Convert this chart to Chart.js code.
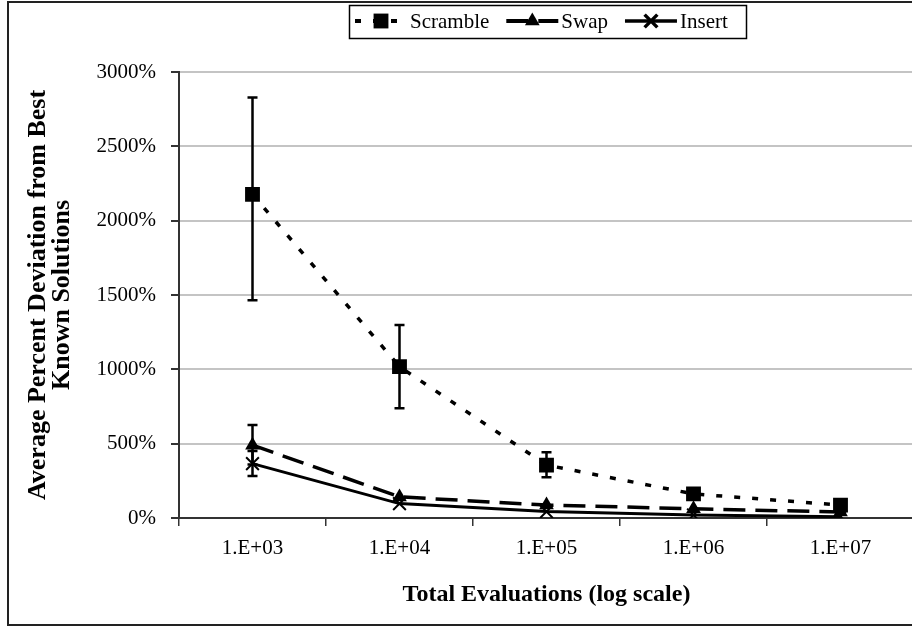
<!DOCTYPE html>
<html>
<head>
<meta charset="utf-8">
<script src="https://cdn.jsdelivr.net/npm/chart.js@4.4.0/dist/chart.umd.min.js"></script>
<style>
  html, body { margin: 0; padding: 0; background: #fff; overflow: hidden; }
  #wrap { position: absolute; left: 0; top: 0; width: 930px; height: 629px; }
</style>
</head>
<body>
<div id="wrap"><canvas id="evalChart"></canvas></div>
<script>
// data
const categories = ['1.E+03', '1.E+04', '1.E+05', '1.E+06', '1.E+07'];
const scramble = [2177, 1018, 356, 162, 87];
const scrambleLow = [1465, 738, 274, null, null];
const scrambleHigh = [2829, 1298, 442, null, null];
const swap = [490, 142, 87, 62, 40];
const swapLow = [360, null, null, null, null];
const swapHigh = [625, null, null, null, null];
const insert = [366, 97, 43, 20, 9];
const insertLow = [282, null, null, null, null];
const insertHigh = [450, null, null, null, null];
const yTicks = [0, 500, 1000, 1500, 2000, 2500, 3000];

const serif = "'Liberation Serif', 'Times New Roman', serif";

// outer frame of the figure
const framePlugin = {
    id: 'frame',
    beforeDraw(chart) {
        const ctx = chart.ctx;
        ctx.save();
        ctx.fillStyle = '#fff';
        ctx.fillRect(0, 0, chart.width, chart.height);
        ctx.strokeStyle = '#222';
        ctx.lineWidth = 2;
        ctx.strokeRect(8, 2, 940, 623);
        ctx.restore();
    }
};

// vertical error bars
const errorBarPlugin = {
    id: 'errorBars',
    afterDatasetsDraw(chart) {
        const ctx = chart.ctx;
        const xs = chart.scales.x;
        const ys = chart.scales.y;
        const sets = [[scrambleLow, scrambleHigh], [swapLow, swapHigh], [insertLow, insertHigh]];
        ctx.save();
        ctx.strokeStyle = '#000';
        ctx.lineWidth = 2.5;
        sets.forEach(function (pair) {
            for (let i = 0; i < categories.length; i++) {
                if (pair[0][i] == null) continue;
                const x = xs.getPixelForValue(i);
                const y1 = ys.getPixelForValue(pair[0][i]);
                const y2 = ys.getPixelForValue(pair[1][i]);
                ctx.beginPath();
                ctx.moveTo(x, y1); ctx.lineTo(x, y2);
                ctx.moveTo(x - 5, y1); ctx.lineTo(x + 5, y1);
                ctx.moveTo(x - 5, y2); ctx.lineTo(x + 5, y2);
                ctx.stroke();
            }
        });
        ctx.restore();
    }
};

// boxed legend at the top
const legendPlugin = {
    id: 'boxLegend',
    afterDraw(chart) {
        const ctx = chart.ctx;
        ctx.save();
        ctx.strokeStyle = '#000';
        ctx.lineWidth = 1.5;
        ctx.strokeRect(349.5, 5.5, 397, 33);
        ctx.font = '21px ' + serif;
        ctx.textBaseline = 'middle';
        ctx.fillStyle = '#000';
        let x = 355;
        const y = 21;
        chart.data.datasets.forEach(function (ds) {
            ctx.save();
            ctx.strokeStyle = ds.borderColor;
            ctx.lineWidth = ds.borderWidth + 0.5;
            ctx.setLineDash(ds.borderDash || []);
            ctx.beginPath();
            ctx.moveTo(x, y); ctx.lineTo(x + 52, y);
            ctx.stroke();
            ctx.setLineDash([]);
            ctx.fillStyle = '#000';
            Chart.helpers.drawPoint(ctx, {
                pointStyle: ds.pointStyle, radius: ds.pointRadius,
                borderWidth: ds.pointBorderWidth, rotation: 0
            }, x + 26, y);
            ctx.restore();
            ctx.fillText(ds.label, x + 55, y + 1);
            x = x + 55 + ctx.measureText(ds.label).width + 17;
        });
        ctx.restore();
    }
};

const evalCtx = document.getElementById('evalChart').getContext('2d');
const evalChart = new Chart(evalCtx, {
    type: 'line',
    data: {
        labels: categories,
        datasets: [{
            label: 'Scramble',
            data: scramble,
            borderColor: '#000',
            backgroundColor: '#000',
            borderWidth: 3.5,
            borderDash: [6, 12],
            pointStyle: 'rect',
            pointRadius: 10.5,
            pointBorderWidth: 0,
            pointBackgroundColor: '#000'
        }, {
            label: 'Swap',
            data: swap,
            borderColor: '#000',
            backgroundColor: '#000',
            borderWidth: 3.5,
            borderDash: [22, 10],
            pointStyle: 'triangle',
            pointRadius: 8.5,
            pointBorderWidth: 0,
            pointBackgroundColor: '#000'
        }, {
            label: 'Insert',
            data: insert,
            borderColor: '#000',
            backgroundColor: '#000',
            borderWidth: 3,
            pointStyle: 'crossRot',
            pointRadius: 9,
            pointBorderWidth: 2,
            pointBorderColor: '#000'
        }]
    },
    options: {
        responsive: true,
        maintainAspectRatio: false,
        animation: false,
        layout: { padding: { top: 72, right: 16, left: 0, bottom: 0 } },
        plugins: {
            legend: { display: false },
            tooltip: { enabled: false }
        },
        scales: {
            x: {
                type: 'category',
                offset: true,
                grid: {
                    offset: true,
                    drawOnChartArea: false,
                    drawTicks: true,
                    tickLength: 8,
                    color: '#333',
                    lineWidth: 1.5
                },
                border: { color: '#333', width: 2 },
                ticks: {
                    color: '#000',
                    font: { family: serif, size: 21 },
                    padding: 10,
                    maxRotation: 0
                },
                title: {
                    display: true,
                    text: 'Total Evaluations (log scale)',
                    color: '#000',
                    font: { family: serif, size: 24, weight: 'bold' },
                    padding: { top: 4, bottom: 20 }
                },
                afterFit(scale) { scale.height = 111; }
            },
            y: {
                min: 0,
                max: 3000,
                afterBuildTicks(scale) {
                    scale.ticks = yTicks.map(v => ({ value: v }));
                },
                grid: {
                    color: '#c4c4c4',
                    lineWidth: 2,
                    tickColor: '#333',
                    tickLength: 8
                },
                border: { color: '#333', width: 2 },
                ticks: {
                    color: '#000',
                    font: { family: serif, size: 21 },
                    padding: 15,
                    callback: v => v + '%'
                },
                title: {
                    display: true,
                    text: ['Average Percent Deviation from Best', 'Known Solutions'],
                    color: '#000',
                    font: { family: serif, size: 26, weight: 'bold', lineHeight: 0.93 },
                    padding: { top: 26, bottom: 0 }
                },
                afterFit(scale) { scale.width = 179; }
            }
        }
    },
    plugins: [framePlugin, errorBarPlugin, legendPlugin]
});
</script>
</body>
</html>
